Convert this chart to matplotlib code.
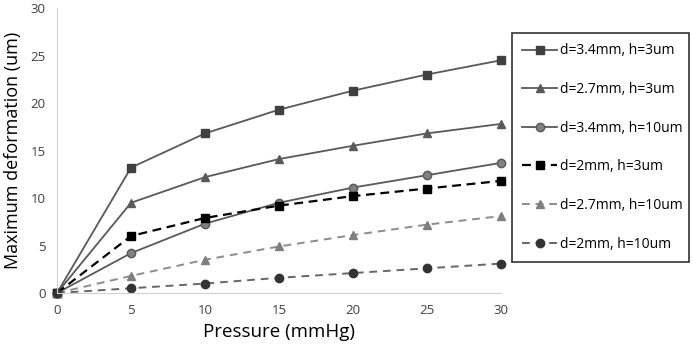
import matplotlib
matplotlib.use("Agg")
import matplotlib.pyplot as plt

plt.rcParams['font.family'] = ['Open Sans', 'DejaVu Sans']

pressure = [0, 5, 10, 15, 20, 25, 30]
labels = ["d=3.4mm, h=3um", "d=2.7mm, h=3um", "d=3.4mm, h=10um",
          "d=2mm, h=3um", "d=2.7mm, h=10um", "d=2mm, h=10um"]
d34_h3 = [0, 13.2, 16.8, 19.3, 21.3, 23.0, 24.5]
d27_h3 = [0, 9.5, 12.2, 14.1, 15.5, 16.8, 17.8]
d34_h10 = [0, 4.2, 7.3, 9.5, 11.1, 12.4, 13.7]
d2_h3 = [0, 6.0, 7.9, 9.2, 10.2, 11.0, 11.8]
d27_h10 = [0, 1.8, 3.5, 4.9, 6.1, 7.2, 8.1]
d2_h10 = [0, 0.5, 1.0, 1.6, 2.1, 2.6, 3.1]

fig = plt.figure(figsize=(6.92, 3.48), dpi=100)
ax = fig.add_axes([0.0824, 0.158, 0.6416, 0.819])

# solid lines
ax.plot(pressure, d34_h3, '-', color='#595959', lw=1.3, marker='s', ms=6,
        mfc='#404040', mec='#404040', label=labels[0])
ax.plot(pressure, d27_h3, '-', color='#595959', lw=1.3, marker='^', ms=6,
        mfc='#595959', mec='#595959', label=labels[1])
ax.plot(pressure, d34_h10, '-', color='#595959', lw=1.3, marker='o', ms=6,
        mfc='#808080', mec='#595959', label=labels[2])
# dashed lines
ax.plot(pressure, d2_h3, '--', color='black', lw=1.6, marker='s', ms=6,
        mfc='black', mec='black', label=labels[3], dashes=(4, 2.5))
ax.plot(pressure, d27_h10, '--', color='#8c8c8c', lw=1.4, marker='^', ms=6,
        mfc='#7f7f7f', mec='#7f7f7f', label=labels[4], dashes=(4, 3))
ax.plot(pressure, d2_h10, '--', color='#666666', lw=1.4, marker='o', ms=6,
        mfc='#333333', mec='#333333', label=labels[5], dashes=(4, 3))

ax.set_xlim(0, 30)
ax.set_ylim(0, 30)
ax.set_xticks(range(0, 31, 5))
ax.set_yticks(range(0, 31, 5))
ax.tick_params(length=0, labelsize=9.5, colors='#404040', pad=8)
for s in ['top', 'right']:
    ax.spines[s].set_visible(False)
for s in ['left', 'bottom']:
    ax.spines[s].set_color('#d0d0d0')
ax.set_xlabel("Pressure (mmHg)", fontsize=13.5, labelpad=4)
ax.set_ylabel("Maximum deformation (um)", fontsize=13, labelpad=6)
for line in ax.lines:
    line.set_clip_on(False)

leg = fig.legend(loc='upper left', bbox_to_anchor=(0.74, 0.905, 0.256, 0.0),
                 mode='expand', fontsize=10, frameon=True, fancybox=False,
                 edgecolor='black', labelspacing=1.7, handlelength=2.5,
                 handletextpad=0.2, borderpad=0.75, borderaxespad=0)
leg.get_frame().set_linewidth(1.2)

fig.savefig("out.png", dpi=100)
